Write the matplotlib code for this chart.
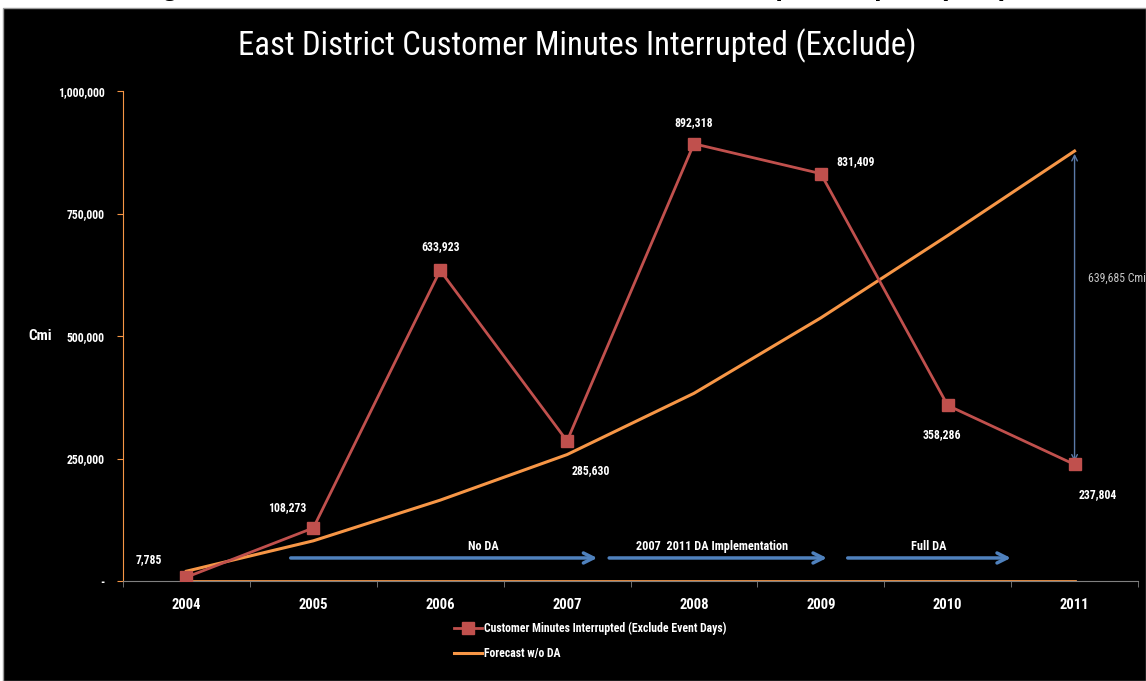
import matplotlib
matplotlib.use("Agg")
import matplotlib.pyplot as plt
from matplotlib import font_manager as fm
from matplotlib.patches import Rectangle

# prefer a narrow face like the original (Arial Narrow look)
names = set(f.name for f in fm.fontManager.ttflist)
narrow = 'Liberation Sans'
for cand in ['Liberation Sans Narrow', 'Roboto Condensed', 'Barlow Semi Condensed',
             'Barlow Condensed', 'Archivo Narrow']:
    if cand in names:
        narrow = cand
        break
plt.rcParams['font.family'] = [narrow, 'DejaVu Sans']

years = ['2004', '2005', '2006', '2007', '2008', '2009', '2010', '2011']
cmi = [7785, 108273, 633923, 285630, 892318, 831409, 358286, 237804]
forecast = [20000, 82000, 165000, 258000, 383000, 537000, 705000, 877489]
baseline = [0, 0, 0, 0, 0, 0, 0, 0]
yticks = [0, 250000, 500000, 750000, 1000000]
ytick_labels = ['-', '250,000', '500,000', '750,000', '1,000,000']
phases = ['No DA', '2007  2011 DA Implementation', 'Full DA']
phase_start = [0.8, 3.31, 5.19]
phase_end = [3.26, 5.07, 6.52]
phase_text_x = [2.34, 4.14, 5.85]
gap_label = '639,685 Cmi'

red = '#C0504D'
orange = '#F79646'
blue = '#4F81BD'

fig = plt.figure(figsize=(11.46, 6.81), dpi=100, facecolor='white')
panel = Rectangle((3/1146, 0), 1 - 3/1146, 1 - 8/681, transform=fig.transFigure,
                  facecolor='black', edgecolor='#9a9a9a', lw=1, zorder=-1)
fig.patches.append(panel)
# page caption above the panel, only its lowest part shows
fig.text(0.5, 1 + 5/681, 'Figure 4.  East District Customer Minutes Interrupted Impact (CMI)',
         ha='center', va='baseline', fontsize=20, fontweight='bold', color='black',
         family=['Liberation Sans', 'DejaVu Sans'], zorder=-2)

ax = fig.add_axes([123/1146, 1 - 581/681, (1138 - 123)/1146, (581 - 91)/681])
ax.set_facecolor('black')
x = list(range(len(years)))

ax.plot(x, baseline, color=orange, lw=2, zorder=2)
ax.plot(x, forecast, color=orange, lw=2.2, zorder=3, label='Forecast w/o DA')
ax.plot(x, cmi, color=red, lw=2, marker='s', ms=8, zorder=4,
        label='Customer Minutes Interrupted (Exclude Event Days)')

# value labels
offs = [(-27, 13), (-19, 15), (0, 17), (17, -21), (0, 15), (25, 9), (-4, -21), (17, -22)]
for xi, v, (dx, dy) in zip(x, cmi, offs):
    ax.annotate(f'{v:,}', (xi, v), xytext=(dx, dy), textcoords='offset points',
                ha='center', va='center', color='white', fontsize=8.5, fontweight='bold')

# gap arrow at the last year
ax.annotate('', xy=(x[-1], forecast[-1]), xytext=(x[-1], cmi[-1]),
            arrowprops=dict(arrowstyle='<->', color='#5B7AA8', lw=1))
ax.text(x[-1] + 0.56, (forecast[-1] + cmi[-1]) / 2 + 60000, gap_label, color='#c8c8c8',
        fontsize=8.5, ha='right', va='center')

# programme phases
for s, e, tx, t in zip(phase_start, phase_end, phase_text_x, phases):
    ax.annotate('', xy=(e, 47000), xytext=(s, 47000),
                arrowprops=dict(arrowstyle='->', color=blue, lw=2.5, mutation_scale=18))
    ax.text(tx, 64000, t, color='white', fontsize=8.8, fontweight='bold', ha='center')

ax.set_xlim(-0.5, 7.5)
ax.set_ylim(0, 1000000)
ax.set_xticks(x)
ax.set_xticklabels(years)
ax.set_xticks([i - 0.5 for i in range(len(years) + 1)], minor=True)
ax.tick_params(axis='x', which='major', length=0, pad=12, colors='white', labelsize=10.5)
ax.tick_params(axis='x', which='minor', length=4, color='#808080')
for lab in ax.get_xticklabels():
    lab.set_fontweight('bold')
ax.set_yticks(yticks)
ax.set_yticklabels(ytick_labels)
ax.tick_params(axis='y', length=4, color=orange, labelcolor='white', labelsize=8.5, pad=9)
for lab in ax.get_yticklabels():
    lab.set_fontweight('bold')
ax.spines['top'].set_visible(False)
ax.spines['right'].set_visible(False)
ax.spines['left'].set_color(orange)
ax.spines['bottom'].set_color('#808080')
ax.set_ylabel('Cmi', color='white', fontsize=11, fontweight='bold', rotation=0,
              ha='center', va='center')
ax.yaxis.set_label_coords(-0.082, 0.5)

fig.text(577/1146, 1 - 46/681, 'East District Customer Minutes Interrupted (Exclude)',
         ha='center', va='center', color='white', fontsize=23.5)

h, l = ax.get_legend_handles_labels()
leg = fig.legend(h[::-1], l[::-1], loc='upper left', bbox_to_anchor=(443/1146, 1 - 611/681),
                 frameon=False, labelcolor='white', fontsize=8.5, handlelength=2.4,
                 labelspacing=1.0, handletextpad=0.2)
for t in leg.get_texts():
    t.set_fontweight('bold')

fig.savefig('out.png', dpi=100, facecolor=fig.get_facecolor())
